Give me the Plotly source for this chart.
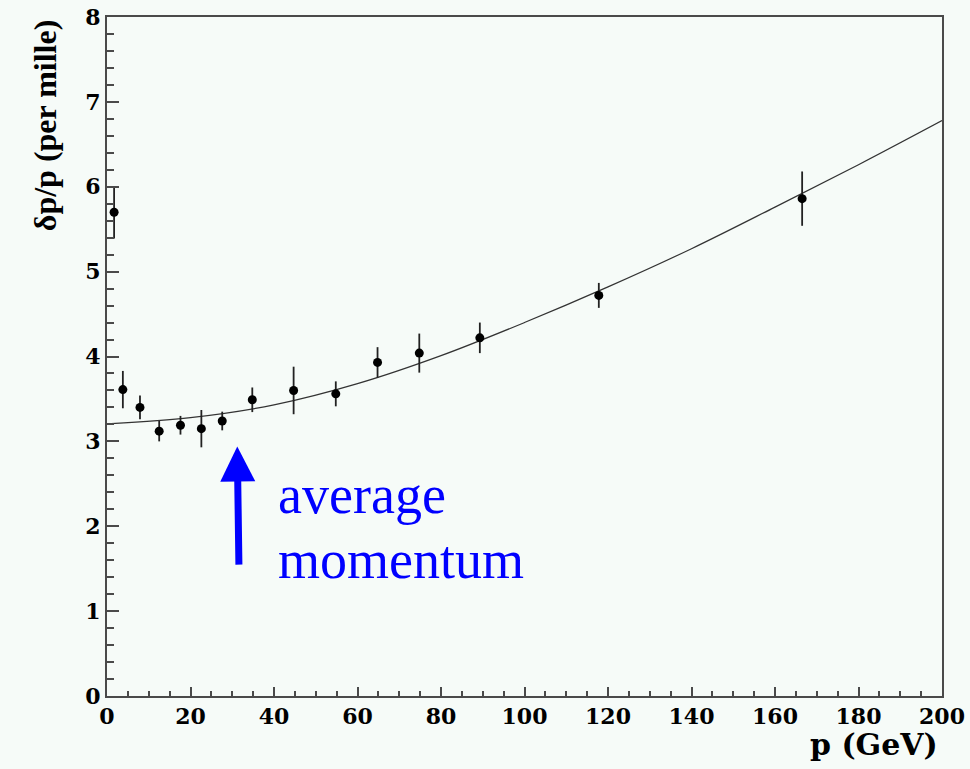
import plotly.graph_objects as go

# Measured relative momentum resolution per momentum bin
p_gev = [1.7, 3.8, 7.9, 12.5, 17.6, 22.6, 27.6, 34.8, 44.7, 54.8, 64.8, 74.8, 89.3, 117.8, 166.5]
dp_over_p = [5.70, 3.61, 3.40, 3.12, 3.19, 3.15, 3.24, 3.49, 3.60, 3.56, 3.93, 4.04, 4.22, 4.72, 5.86]
dp_err = [0.31, 0.22, 0.14, 0.12, 0.11, 0.22, 0.11, 0.145, 0.28, 0.147, 0.18, 0.23, 0.18, 0.147, 0.32]

# Fitted resolution curve, sampled along p
fit_p = [1, 20, 40, 60, 80, 100, 120, 140, 160, 180, 200]
fit_val = [3.21, 3.28, 3.43, 3.68, 4.01, 4.40, 4.82, 5.27, 5.76, 6.26, 6.78]

x_ticks = [0, 20, 40, 60, 80, 100, 120, 140, 160, 180, 200]
y_ticks = [0, 1, 2, 3, 4, 5, 6, 7, 8]

bg = "#f6fbf8"
axis_col = "#4a4a4a"
tick_font = dict(family="DejaVu Serif", size=22, color="black", weight="bold")

fig = go.Figure()

fig.add_trace(go.Scatter(
    x=fit_p, y=fit_val, mode="lines", line_shape="spline",
    line=dict(color="#333333", width=1.2), hoverinfo="skip", showlegend=False,
))

fig.add_trace(go.Scatter(
    x=p_gev, y=dp_over_p, mode="markers",
    marker=dict(color="black", size=9, symbol="circle"),
    error_y=dict(type="data", array=dp_err, visible=True, color="#222222",
                 thickness=1.8, width=0),
    showlegend=False,
))

fig.update_layout(
    width=970, height=769,
    paper_bgcolor=bg, plot_bgcolor=bg,
    margin=dict(l=107, r=28, t=17, b=73, autoexpand=False),
    xaxis=dict(
        range=[0, 200], tickvals=x_ticks, ticktext=[str(v) for v in x_ticks],
        ticks="inside", ticklen=9, tickwidth=1.5, tickcolor=axis_col,
        showline=True, linecolor=axis_col, linewidth=2, mirror=True,
        showgrid=False, zeroline=False, tickfont=tick_font, automargin=False,
        minor=dict(dtick=5, ticks="inside", ticklen=5, tickwidth=1.5, tickcolor=axis_col, showgrid=False),
    ),
    yaxis=dict(
        range=[0, 8], tickvals=y_ticks, ticktext=[str(v) for v in y_ticks],
        ticks="inside", ticklen=12, tickwidth=1.5, tickcolor=axis_col,
        showline=True, linecolor=axis_col, linewidth=2, mirror=True,
        showgrid=False, zeroline=False, tickfont=tick_font, automargin=False,
        minor=dict(dtick=0.2, ticks="inside", ticklen=7, tickwidth=1.5, tickcolor=axis_col, showgrid=False),
    ),
    annotations=[
        dict(text="δp/p (per mille)", textangle=-90, xref="paper", yref="paper",
             x=-0.074, y=1.0, xanchor="center", yanchor="top", showarrow=False,
             font=dict(family="Liberation Serif", size=32, color="black", weight="bold")),
        dict(text="p (GeV)", xref="paper", yref="paper",
             x=0.998, y=-0.072, xanchor="right", yanchor="middle", showarrow=False,
             font=dict(family="DejaVu Serif", size=30, color="black", weight="bold")),
        dict(text="", x=31.2, y=2.94, ax=31.6, ay=1.53, xref="x", yref="y",
             axref="x", ayref="y", showarrow=True, arrowhead=2, arrowsize=1,
             arrowwidth=7, arrowcolor="#0000ff", standoff=0),
        dict(text="average", x=40.5, y=2.37, xref="x", yref="y", xanchor="left",
             yanchor="middle", showarrow=False,
             font=dict(family="Liberation Serif", size=54, color="#0000ff")),
        dict(text="momentum", x=40.5, y=1.60, xref="x", yref="y", xanchor="left",
             yanchor="middle", showarrow=False,
             font=dict(family="Liberation Serif", size=54, color="#0000ff")),
    ],
)

fig.write_html("out.html")
